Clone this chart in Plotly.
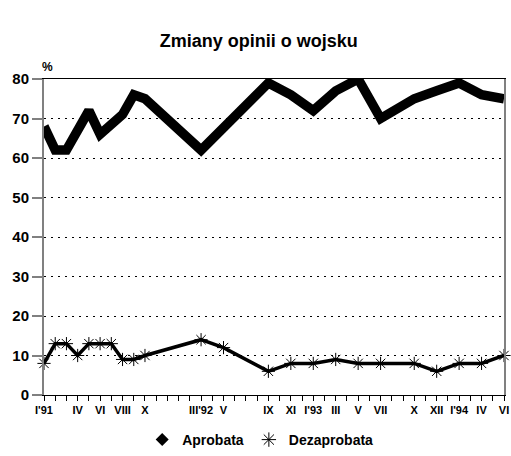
import plotly.graph_objects as go

# Month index (0 = I'91 ... 41 = VI'94) and tick labels
tick_label_at = {0: "I'91", 3: "IV", 5: "VI", 7: "VIII", 9: "X", 14: "III'92", 16: "V",
                 20: "IX", 22: "XI", 24: "I'93", 26: "III", 28: "V", 30: "VII", 33: "X",
                 35: "XII", 37: "I'94", 39: "IV", 41: "VI"}
n_months = 42
tick_vals = list(range(n_months))
tick_text = [tick_label_at.get(i, "") for i in tick_vals]

aprobata_x = [0, 1, 2, 4, 5, 7, 8, 9, 14, 20, 22, 24, 26, 28, 30, 33, 35, 37, 39, 41]
aprobata_y = [68, 62, 62, 72, 66, 71, 76, 75, 62, 79, 76, 72, 77, 80, 70, 75, 77, 79, 76, 75]

dezaprobata_x = [0, 1, 2, 3, 4, 5, 6, 7, 8, 9, 14, 16, 20, 22, 24, 26, 28, 30, 33, 35, 37, 39, 41]
dezaprobata_y = [8, 13, 13, 10, 13, 13, 13, 9, 9, 10, 14, 12, 6, 8, 8, 9, 8, 8, 8, 6, 8, 8, 10]

FONT = "Liberation Sans, Arial, Helvetica, sans-serif"

W, H = 511, 456

fig = go.Figure()
fig.add_trace(go.Scatter(
    x=aprobata_x, y=aprobata_y, mode="lines", name="Aprobata",
    line=dict(color="black", width=9.5), showlegend=False, cliponaxis=False))
fig.add_trace(go.Scatter(
    x=dezaprobata_x, y=dezaprobata_y, mode="lines+markers", name="Dezaprobata",
    line=dict(color="black", width=3.5),
    marker=dict(symbol="asterisk-open", size=11, color="black",
                line=dict(color="black", width=1)),
    showlegend=False, cliponaxis=False))
# legend entries (marker only, as in the reference)
fig.add_trace(go.Scatter(x=[None], y=[None], mode="markers", name="Aprobata",
                         marker=dict(symbol="diamond", size=10, color="black")))
fig.add_trace(go.Scatter(x=[None], y=[None], mode="markers", name="Dezaprobata",
                         marker=dict(symbol="asterisk-open", size=12, color="black",
                                     line=dict(color="black", width=1))))

fig.update_layout(
    width=W, height=H,
    margin=dict(l=44, r=7, t=79, b=61, autoexpand=False),
    paper_bgcolor="white", plot_bgcolor="white",
    font=dict(family=FONT, color="black"),
    title=dict(text="<b>Zmiany opinii o wojsku</b>", x=0.467, xref="paper",
               xanchor="center", y=1 - 41 / H, yref="container", yanchor="middle",
               font=dict(size=18, family=FONT, color="black")),
    legend=dict(orientation="h", x=0.47, xanchor="center", y=1 - 440 / H,
                yref="container", yanchor="middle",
                font=dict(size=14, family=FONT, color="black", weight="bold"),
                itemwidth=30, tracegroupgap=0),
    annotations=[dict(text="<b>%</b>", xref="paper", yref="paper", x=0, y=1,
                      xanchor="left", yanchor="bottom", yshift=3, xshift=-4,
                      showarrow=False, font=dict(size=12, family=FONT, color="black"))],
)
fig.update_xaxes(
    range=[0, n_months - 1], tickmode="array", tickvals=tick_vals, ticktext=tick_text,
    showgrid=False, zeroline=False, showline=True, linecolor="black", linewidth=1,
    mirror=True, ticks="outside", ticklen=5, tickcolor="black", tickwidth=1,
    automargin=False, ticklabeloverflow="allow",
    tickfont=dict(size=11, family=FONT, color="black", weight="bold"), tickangle=0)
fig.update_yaxes(
    range=[0, 80], tickmode="array", tickvals=[0, 10, 20, 30, 40, 50, 60, 70, 80],
    showgrid=True, gridcolor="black", gridwidth=1, griddash="2px,5px",
    zeroline=False, showline=True, linecolor="#808080", linewidth=2, mirror=True,
    ticks="outside", ticklen=10, tickcolor="#808080", tickwidth=2, automargin=False,
    tickfont=dict(size=15, family=FONT, color="black", weight="bold"))

fig.write_html(
    "out.html",
    config={"displayModeBar": False},
    post_script="document.body.style.margin='0';document.body.style.overflow='hidden';",
)
